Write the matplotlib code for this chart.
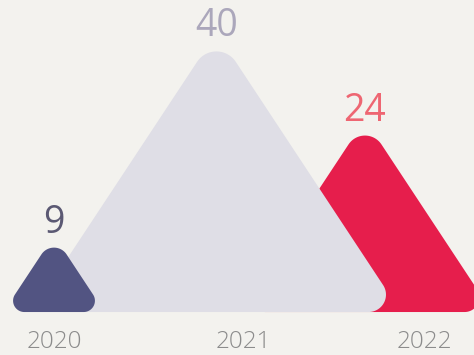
import numpy as np
import matplotlib
matplotlib.use("Agg")
import matplotlib.pyplot as plt
from matplotlib.patches import Polygon

# data
years = ["2020", "2021", "2022"]
values = [9, 40, 24]

# styling / layout
fill_colors = ["#525482", "#dfdee6", "#e61e4c"]
label_colors = ["#5b5973", "#aba7bb", "#ee6672"]
peak_shift = [0.0, -0.122, -0.319]   # horizontal nudge of each peak, in category units
tick_shift = [0.0, 0.022, 0.003]
base_value = 3.037                   # value where the triangles sit
slope = 0.66                         # half-width / height of every triangle
BG = "#f3f2ee"

fig = plt.figure(figsize=(4.74, 3.55), dpi=100, facecolor=BG)
ax = fig.add_axes([0, 0, 1, 1])
ax.set_facecolor(BG)
ax.set_yscale("function", functions=(np.sqrt, np.square))
ax.set_xlim(-54 / 185, 420 / 185)
ax.set_ylim(1.078, 47.03)
ax.axis("off")


def rounded_polygon(verts, radii, n=32):
    """Return the outline of a polygon with circular fillets at its corners."""
    verts = np.asarray(verts, float)
    m = len(verts)
    out = []
    for i in range(m):
        p = verts[i]
        a = verts[i - 1]
        b = verts[(i + 1) % m]
        u = (a - p) / np.linalg.norm(a - p)
        w = (b - p) / np.linalg.norm(b - p)
        theta = np.arccos(np.clip(u @ w, -1, 1))
        r = radii[i]
        t = r / np.tan(theta / 2)
        bis = (u + w) / np.linalg.norm(u + w)
        c = p + bis * r / np.sin(theta / 2)
        p1 = p + u * t
        p2 = p + w * t
        a1 = np.arctan2(p1[1] - c[1], p1[0] - c[0])
        a2 = np.arctan2(p2[1] - c[1], p2[0] - c[0])
        d = (a2 - a1 + np.pi) % (2 * np.pi) - np.pi
        angs = a1 + d * np.linspace(0, 1, n)
        out.extend(c + r * np.c_[np.cos(angs), np.sin(angs)])
    return np.array(out)


alpha = np.arctan(slope)
to_data = ax.transData.inverted()

# draw back to front: 2022, 2021, 2020
for i in [2, 1, 0]:
    xc = i + peak_shift[i]
    v = values[i]
    apex = ax.transData.transform((xc, v))
    base = ax.transData.transform((xc, base_value))
    h = apex[1] - base[1]
    hw = slope * h
    r = 0.04 * h + 12
    verts = [(base[0] - hw, base[1]), (base[0], apex[1]), (base[0] + hw, base[1])]
    outline = rounded_polygon(verts, [r * 0.75, r, r * 0.75])
    poly = Polygon(to_data.transform(outline), closed=True,
                   facecolor=fill_colors[i], edgecolor="none", zorder=3 - i)
    ax.add_patch(poly)

    drop = r * (1 / np.sin(alpha) - 1)
    ax.annotate(str(v), xy=(xc, v), xytext=(0, 15 - drop),
                textcoords="offset pixels", ha="center", va="baseline",
                fontsize=27, color=label_colors[i], family="Open Sans", zorder=5)

for i, yr in enumerate(years):
    ax.annotate(yr, xy=(i + tick_shift[i], base_value), xytext=(0, -36),
                textcoords="offset pixels", ha="center", va="baseline",
                fontsize=17.5, color="#8c8c8c", family="Open Sans",
                fontweight="light", zorder=5)

fig.savefig("out.png", dpi=100, facecolor=BG)
